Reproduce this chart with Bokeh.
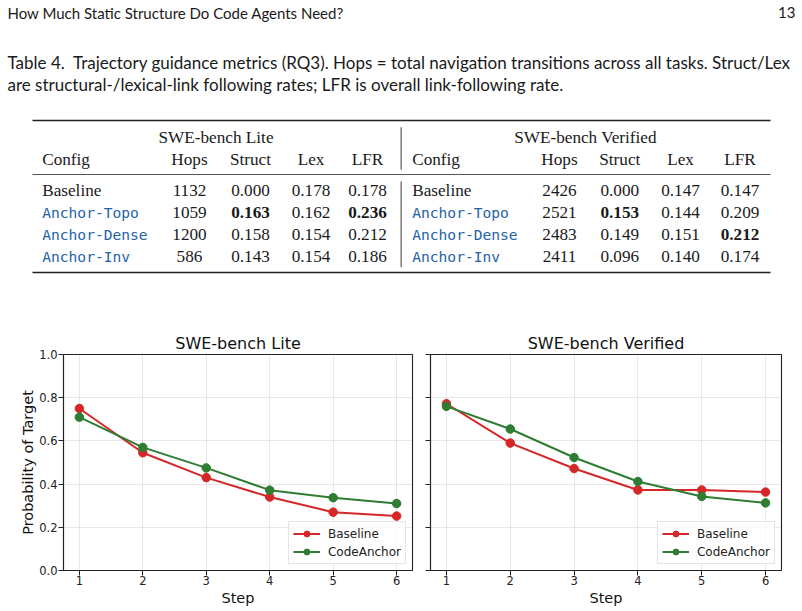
from bokeh.plotting import figure
from bokeh.layouts import column, row
from bokeh.models import Range1d, ColumnDataSource, FixedTicker
from bokeh.core.properties import value
from bokeh.embed import file_html
from bokeh.resources import INLINE

# ---------------- data ----------------
page_title = "How Much Static Structure Do Code Agents Need?"
page_number = "13"
caption_lines = [
    "Table 4.\u00a0 Trajectory guidance metrics (RQ3). Hops = total navigation transitions across all tasks. Struct/Lex",
    "are structural-/lexical-link following rates; LFR is overall link-following rate.",
]
benchmarks = ["SWE-bench Lite", "SWE-bench Verified"]
col_headers = ["Config", "Hops", "Struct", "Lex", "LFR"]
configs = ["Baseline", "Anchor-Topo", "Anchor-Dense", "Anchor-Inv"]

lite_hops = [1132, 1059, 1200, 586]
lite_struct = [0.000, 0.163, 0.158, 0.143]
lite_lex = [0.178, 0.162, 0.154, 0.154]
lite_lfr = [0.178, 0.236, 0.212, 0.186]

ver_hops = [2426, 2521, 2483, 2411]
ver_struct = [0.000, 0.153, 0.149, 0.096]
ver_lex = [0.147, 0.144, 0.151, 0.140]
ver_lfr = [0.147, 0.209, 0.212, 0.174]

steps = [1, 2, 3, 4, 5, 6]
lite_baseline = [0.750, 0.545, 0.430, 0.340, 0.270, 0.252]
lite_codeanchor = [0.710, 0.570, 0.475, 0.372, 0.337, 0.310]
ver_baseline = [0.772, 0.590, 0.472, 0.373, 0.373, 0.363]
ver_codeanchor = [0.760, 0.655, 0.523, 0.412, 0.343, 0.313]
series_names = ["Baseline", "CodeAnchor"]
y_ticks = [0.0, 0.2, 0.4, 0.6, 0.8, 1.0]

# ---------------- styles / layout ----------------
SANS = value("Lato")
SERIF = value("Liberation Serif")
MONO = value("DejaVu Sans Mono")
CHART_FONT = "DejaVu Sans"
RED = "#d62728"
GREEN = "#2e7d32"
BLUE = "#1f62a8"
INK = "#1a1a1a"

TOP_H = 330
top = figure(width=802, height=TOP_H, x_range=Range1d(0, 802), y_range=Range1d(TOP_H, 0),
             x_axis_location=None, y_axis_location=None, output_backend="svg",
             toolbar_location=None, min_border=0, outline_line_color=None)
top.grid.visible = False

# header line
top.text(x=[7], y=[12], text=[page_title], text_font=SANS, text_font_size="15px",
         text_baseline="middle", text_align="left", text_color=INK)
top.text(x=[795], y=[12], text=[page_number], text_font=SANS, text_font_size="15px",
         text_baseline="middle", text_align="right", text_color=INK)
# caption
top.text(x=[7, 7], y=[62, 84], text=caption_lines, text_font=SANS, text_font_size="17px",
         text_baseline="middle", text_align="left", text_color=INK)

# table
blocks = [
    dict(name=benchmarks[0], cfg_x=41.7, cols=[189, 250, 310.5, 367], title_x=215.5,
         data=[lite_hops, lite_struct, lite_lex, lite_lfr]),
    dict(name=benchmarks[1], cfg_x=411.7, cols=[559, 619.3, 680, 739.5], title_x=585,
         data=[ver_hops, ver_struct, ver_lex, ver_lfr]),
]
Y_GROUP, Y_HEAD = 136.7, 159
ROW_Y0, ROW_DY = 190, 21.9
serif = dict(x=[], y=[], text=[], style=[], align=[])
mono = dict(x=[], y=[], text=[])


def add_serif(x, y, t, style="normal", align="center"):
    serif["x"].append(x); serif["y"].append(y); serif["text"].append(t)
    serif["style"].append(style); serif["align"].append(align)


for b in blocks:
    add_serif(b["title_x"], Y_GROUP, b["name"])
    add_serif(b["cfg_x"], Y_HEAD, col_headers[0], align="left")
    for cx, h in zip(b["cols"], col_headers[1:]):
        add_serif(cx, Y_HEAD, h)
    hops, struct, lex, lfr = b["data"]
    for i, cfg in enumerate(configs):
        y = ROW_Y0 + i * ROW_DY
        if i == 0:
            add_serif(b["cfg_x"], y, cfg, align="left")
        else:
            mono["x"].append(b["cfg_x"]); mono["y"].append(y); mono["text"].append(cfg)
        add_serif(b["cols"][0], y, str(hops[i]))
        add_serif(b["cols"][1], y, f"{struct[i]:.3f}", "bold" if struct[i] == max(struct) else "normal")
        add_serif(b["cols"][2], y, f"{lex[i]:.3f}")
        add_serif(b["cols"][3], y, f"{lfr[i]:.3f}", "bold" if lfr[i] == max(lfr) else "normal")

top.text(x="x", y="y", text="text", source=ColumnDataSource(serif), text_font=SERIF,
         text_font_size="17.2px", text_font_style="style", text_align="align",
         text_baseline="middle", text_color=INK)
top.text(x="x", y="y", text="text", source=ColumnDataSource(mono), text_font=MONO,
         text_font_size="14.6px", text_align="left", text_baseline="middle", text_color=BLUE)

# rules
top.segment(x0=[32, 32], x1=[770, 770], y0=[120, 272], y1=[120, 272], line_color="#222222", line_width=1.7)
top.segment(x0=[32], x1=[770], y0=[174], y1=[174], line_color="#555555", line_width=1.1)
top.segment(x0=[400.7, 400.7], x1=[400.7, 400.7], y0=[126.7, 181], y1=[169.3, 266.7],
            line_color="#7a7a7a", line_width=1.5)


# ---------------- charts ----------------
def make_chart(title, base, anchor, show_ylabels, mb_left, fw, mb_right):
    p = figure(frame_width=fw, frame_height=216, min_border_left=mb_left, min_border_right=mb_right,
               min_border_top=24, min_border_bottom=41, x_range=Range1d(0.75, 6.25),
               y_range=Range1d(0, 1), title=title, output_backend="svg", toolbar_location=None)
    p.title.text_font = CHART_FONT
    p.title.text_font_size = "16px"
    p.title.text_font_style = "normal"
    p.title.align = "center"
    p.title.text_color = "#111111"
    p.title.standoff = 3
    p.outline_line_color = "#222222"
    p.outline_line_width = 1.1
    p.outline_line_alpha = 1.0
    for ax in (p.xaxis[0], p.yaxis[0]):
        ax.axis_line_color = "#222222"
        ax.axis_line_width = 1.1
        ax.major_tick_line_color = "#222222"
        ax.major_tick_out = 5
        ax.major_tick_in = 0
        ax.minor_tick_line_color = None
        ax.major_label_text_font = CHART_FONT
        ax.major_label_text_font_size = "11.5px"
        ax.major_label_text_color = "#222222"
        ax.axis_label_text_font = CHART_FONT
        ax.axis_label_text_font_size = "14.5px"
        ax.axis_label_text_font_style = "normal"
        ax.axis_label_text_color = "#111111"
    p.xaxis.ticker = FixedTicker(ticks=steps)
    p.xaxis.major_label_overrides = {s: str(s) for s in steps}
    p.xaxis.axis_label = "Step"
    p.xaxis.major_label_standoff = 0
    p.xaxis.axis_label_standoff = 2
    p.yaxis.ticker = FixedTicker(ticks=y_ticks)
    if show_ylabels:
        p.yaxis.major_label_overrides = {t: f"{t:.1f}" for t in y_ticks}
        p.yaxis.axis_label = "Probability of Target"
        p.yaxis.major_label_standoff = 1
        p.yaxis.axis_label_standoff = 0
    else:
        p.yaxis.major_label_overrides = {t: "" for t in y_ticks}
        p.yaxis.major_label_standoff = 0
    p.grid.grid_line_color = "#b0b0b0"
    p.grid.grid_line_alpha = 0.3
    p.grid.grid_line_width = 1.1

    for vals, color, name in ((base, RED, series_names[0]), (anchor, GREEN, series_names[1])):
        p.line(steps, vals, line_color=color, line_width=2, legend_label=name)
        p.scatter(steps, vals, size=8.5, fill_color=color, line_color=color, legend_label=name)

    lg = p.legend[0]
    lg.location = "bottom_right"
    lg.margin = 6
    lg.padding = 4
    lg.spacing = 3
    lg.label_standoff = 8
    lg.glyph_width = 27
    lg.glyph_height = 15
    lg.label_height = 15
    lg.label_text_font = CHART_FONT
    lg.label_text_font_size = "12px"
    lg.label_text_color = "#222222"
    lg.border_line_color = "#cccccc"
    lg.border_line_width = 1
    lg.background_fill_alpha = 0.8
    return p


left = make_chart(benchmarks[0], lite_baseline, lite_codeanchor, True, 63, 349, 8)
right = make_chart(benchmarks[1], ver_baseline, ver_codeanchor, False, 10, 351, 21)

layout = column(top, row(left, right, spacing=0), spacing=0)
open("out.html", "w").write(file_html(layout, INLINE))
